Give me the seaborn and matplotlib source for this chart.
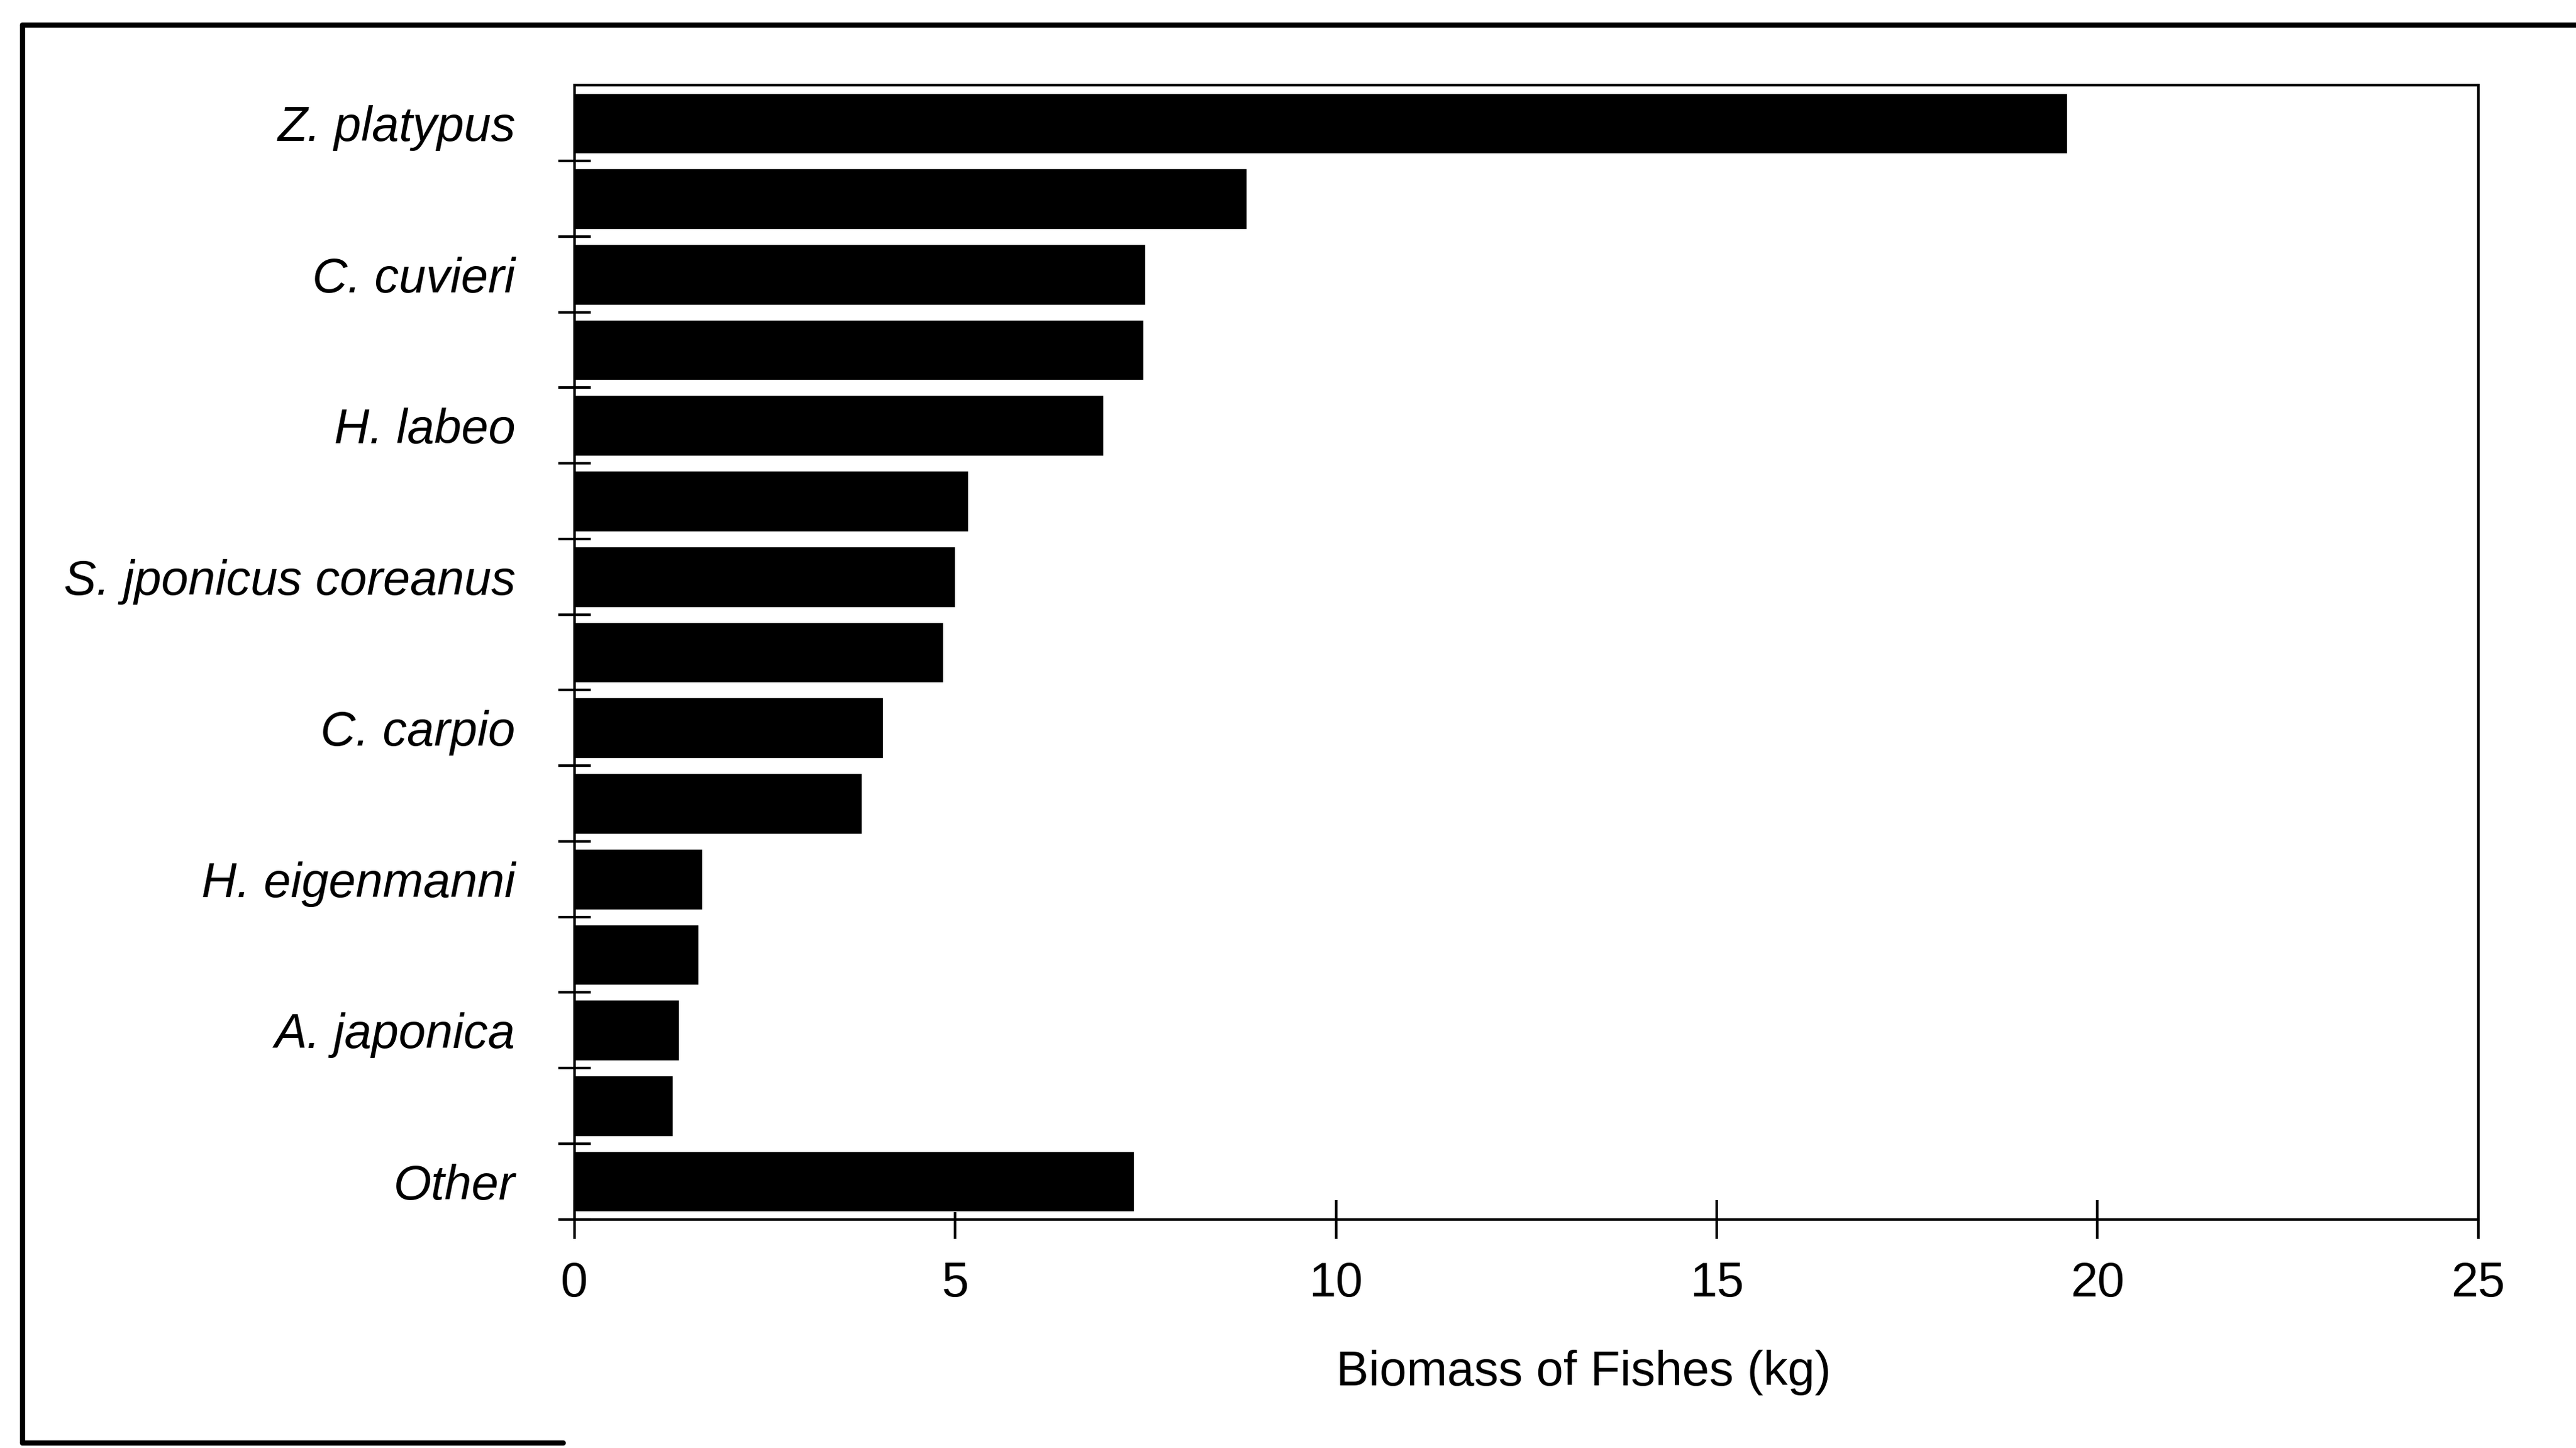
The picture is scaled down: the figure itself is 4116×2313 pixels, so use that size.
import matplotlib
matplotlib.use("Agg")
import matplotlib.pyplot as plt
import seaborn as sns
import pandas as pd
from matplotlib.lines import Line2D
from matplotlib.ticker import FixedLocator

# ---- data ----
species_labels = ["Z. platypus", "C. cuvieri", "H. labeo", "S. jponicus coreanus",
                  "C. carpio", "H. eigenmanni", "A. japonica", "Other"]
bar_ids = [str(i) for i in range(15)]
biomass = [19.6, 8.83, 7.5, 7.47, 6.95, 5.17, 5.0, 4.84, 4.05, 3.77,
           1.68, 1.63, 1.37, 1.29, 7.35]
x_ticks = [0, 5, 10, 15, 20, 25]
x_label = "Biomass of Fishes (kg)"

sns.set_theme(style="white")
plt.rcParams["font.family"] = ["Liberation Sans", "DejaVu Sans"]

fig = plt.figure(figsize=(41.16, 23.13), dpi=100)
ax = fig.add_axes([0.223, 0.158, 0.739, 0.783])

df = pd.DataFrame({"bar": bar_ids, "biomass": biomass})
sns.barplot(data=df, x="biomass", y="bar", order=bar_ids, orient="h",
            color="black", saturation=1, width=0.8, ax=ax)

ax.set_xlim(0, 25)
ax.set_ylim(14.5, -0.5)

# y labels on every other bar
ax.set_yticks(list(range(0, 15, 2)))
ax.set_yticklabels(species_labels, fontstyle="italic", fontsize=56, color="black")
ax.tick_params(axis="y", which="major", length=0, pad=68)
ax.yaxis.set_minor_locator(FixedLocator([i + 0.5 for i in range(15)]))
ax.tick_params(axis="y", which="minor", left=True, length=38, width=3,
               direction="inout", color="black")

ax.set_xticks(x_ticks)
ax.set_xticklabels([str(t) for t in x_ticks])
ax.tick_params(axis="x", which="major", bottom=True, length=44, width=3,
               direction="inout", pad=26, labelsize=56, labelcolor="black",
               color="black")

ax.set_xlabel(x_label, fontsize=56, color="black")
ax.set_ylabel("")
ax.xaxis.set_label_coords(0.53, -0.115)

for s in ax.spines.values():
    s.set_color("black")
    s.set_linewidth(3)

# scanned page frame
fig.add_artist(Line2D([36 / 4116, 1.0], [1 - 40 / 2313, 1 - 40 / 2313],
                      transform=fig.transFigure, color="black", linewidth=6))
fig.add_artist(Line2D([36 / 4116, 36 / 4116], [1 - 40 / 2313, 1 - 2305 / 2313],
                      transform=fig.transFigure, color="black", linewidth=6))
fig.add_artist(Line2D([36 / 4116, 900 / 4116], [1 - 2305 / 2313, 1 - 2305 / 2313],
                      transform=fig.transFigure, color="black", linewidth=6))

fig.savefig("out.png", dpi=100, facecolor="white")
